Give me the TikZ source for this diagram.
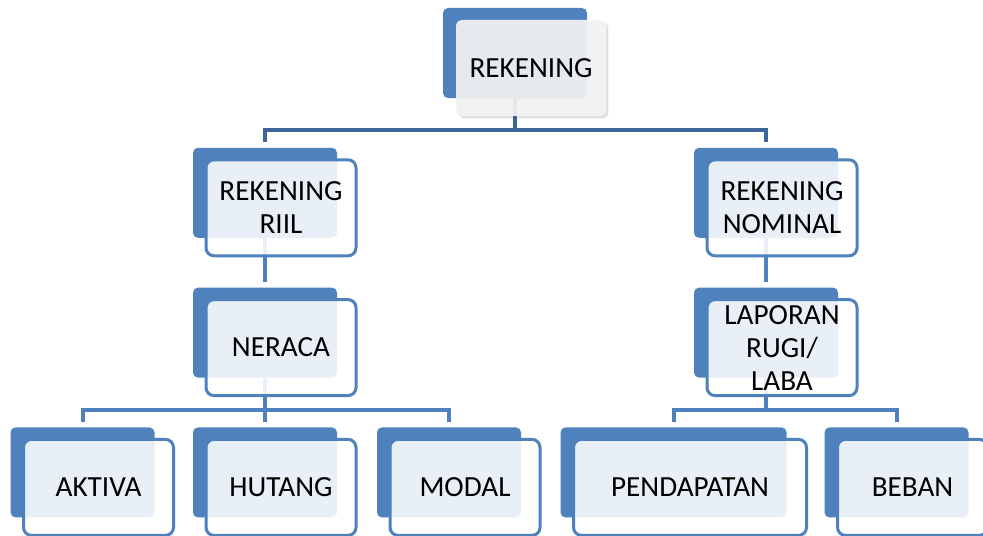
\documentclass[tikz,border=0pt]{standalone}
\usepackage{fontspec}
\setmainfont{Carlito}
\usetikzlibrary{positioning,shadows}
\definecolor{accent}{HTML}{4F81BD}
\definecolor{accentdark}{HTML}{3D6699}
\definecolor{paleface}{HTML}{F4F4F4}
\tikzset{
backbox/.style={fill=accent,rounded corners=2.5pt,minimum width=72pt,minimum height=45pt,inner sep=0pt},
wideback/.style={backbox,minimum width=113pt},
frontbox/.style={draw=accent,line width=1.5pt,fill=white,fill opacity=0.88,text opacity=1,rounded corners=4pt,
minimum width=75pt,minimum height=48pt,inner sep=0pt,align=center,font=\fontsize{14.6}{16.5}\selectfont},
widefront/.style={frontbox,minimum width=116.5pt},
topfront/.style={frontbox,draw=none,fill=paleface,fill opacity=0.92,rounded corners=3pt,
drop shadow={shadow xshift=1.2pt,shadow yshift=-1.2pt,fill=black,opacity=0.12}},
link/.style={draw=accent,line width=2pt,shorten >=2.5pt},
toplink/.style={link,draw=accentdark}
}

\begin{document}
\begin{tikzpicture}
\useasboundingbox (0,0) rectangle (491.5pt,-267.5pt);
\clip (0,0) rectangle (491.5pt,-267.5pt);
% back boxes
\node[backbox] (rek) at (257.5pt,-26.5pt) {};
\node[backbox,below=24.5pt of rek,xshift=-125pt] (riil) {};
\node[backbox,below=24.5pt of rek,xshift=125.5pt] (nominal) {};
\node[backbox,below=24.5pt of riil] (neraca) {};
\node[backbox,below=24.5pt of nominal] (laporan) {};
\node[backbox,below=24.5pt of neraca,xshift=-91.25pt] (aktiva) {};
\node[backbox,below=24.5pt of neraca] (hutang) {};
\node[backbox,below=24.5pt of neraca,xshift=92pt] (modal) {};
\node[wideback,below=24.5pt of laporan,xshift=-46.25pt] (pendapatan) {};
\node[backbox,below=24.5pt of laporan,xshift=65.25pt] (beban) {};
% connectors
\foreach \kid in {riil,nominal}
  \draw[toplink] (rek.south) -- ++(0,-16pt) -| (\kid.north);
\draw[link] (riil.south) -- (neraca.north);
\draw[link] (nominal.south) -- (laporan.north);
\foreach \kid in {aktiva,hutang,modal}
  \draw[link] (neraca.south) -- ++(0,-16pt) -| (\kid.north);
\foreach \kid in {pendapatan,beban}
  \draw[link] (laporan.south) -- ++(0,-16pt) -| (\kid.north);
% front boxes
\node[topfront] (rek-f) at ([shift={(8pt,-7.5pt)}]rek.center) {REKENING};
\node[frontbox] (riil-f) at ([shift={(8pt,-7.5pt)}]riil.center) {REKENING\\RIIL};
\node[frontbox] (nominal-f) at ([shift={(8pt,-7.5pt)}]nominal.center) {REKENING\\NOMINAL};
\node[frontbox] (neraca-f) at ([shift={(8pt,-7.5pt)}]neraca.center) {NERACA};
\node[frontbox] (laporan-f) at ([shift={(8pt,-7.5pt)}]laporan.center) {LAPORAN\\RUGI/\\LABA};
\node[frontbox] (aktiva-f) at ([shift={(8pt,-7.5pt)}]aktiva.center) {AKTIVA};
\node[frontbox] (hutang-f) at ([shift={(8pt,-7.5pt)}]hutang.center) {HUTANG};
\node[frontbox] (modal-f) at ([shift={(8pt,-7.5pt)}]modal.center) {MODAL};
\node[widefront] (pendapatan-f) at ([shift={(8.25pt,-7.5pt)}]pendapatan.center) {PENDAPATAN};
\node[frontbox] (beban-f) at ([shift={(8pt,-7.5pt)}]beban.center) {BEBAN};
\end{tikzpicture}
\end{document}
